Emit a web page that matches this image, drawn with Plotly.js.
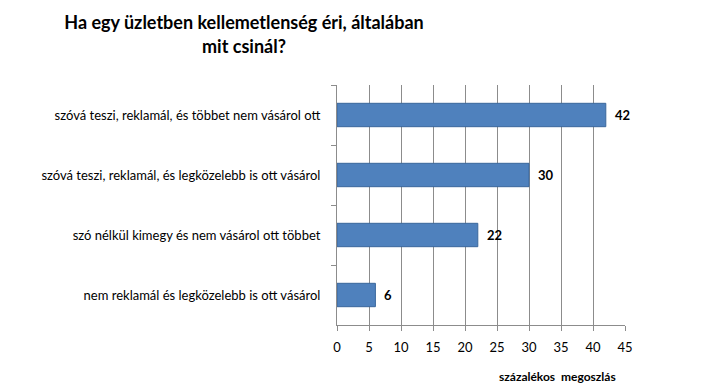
<!DOCTYPE html>
<html>
<head>
<meta charset="utf-8">
<script src="https://cdn.plot.ly/plotly-3.0.1.min.js"></script>
<style>html,body{margin:0;padding:0;background:#fff;}#chart{width:720px;height:390px;}</style>
</head>
<body>
<div id="chart"></div>
<script>
const categories = [
  "szóvá teszi, reklamál, és többet nem vásárol ott",
  "szóvá teszi, reklamál, és legközelebb is ott vásárol",
  "szó nélkül kimegy és nem vásárol ott többet",
  "nem reklamál és legközelebb is ott vásárol"
];
const values = [42, 30, 22, 6];
const xTicks = [0, 5, 10, 15, 20, 25, 30, 35, 40, 45];

const trace = {
  type: 'bar',
  orientation: 'h',
  y: categories,
  x: values,
  marker: {color: '#4F81BD', line: {color: '#3A679C', width: 1}},
  width: 0.39,
  hoverinfo: 'none'
};

const valueLabels = values.map((v, i) => ({
  text: '<b>' + v + '</b>',
  x: v, y: categories[i], xref: 'x', yref: 'y',
  xanchor: 'left', yanchor: 'middle', xshift: 7,
  showarrow: false,
  font: {family: 'Lato, sans-serif', size: 13, color: '#000'}
}));

const layout = {
  width: 720, height: 390,
  margin: {l: 337, r: 95, t: 85, b: 65},
  paper_bgcolor: '#fff', plot_bgcolor: '#fff',
  showlegend: false,
  font: {family: 'Lato, sans-serif', size: 13, color: '#000'},
  title: {
    text: '<b>Ha egy üzletben kellemetlenség éri, általában<br>mit csinál?</b>',
    font: {family: 'Lato, sans-serif', size: 18, color: '#000'},
    xref: 'container', yref: 'container',
    x: 244 / 720, xanchor: 'center', y: 0.925, yanchor: 'top'
  },
  xaxis: {
    range: [0, 45],
    tickvals: xTicks,
    ticktext: xTicks.map(String),
    showgrid: true, gridcolor: '#8C8C8C', gridwidth: 1,
    showline: true, linecolor: '#8C8C8C', linewidth: 1,
    ticks: 'outside', ticklen: 5, tickcolor: '#8C8C8C',
    tickfont: {family: 'Lato, sans-serif', size: 13, color: '#000'},
    ticklabelstandoff: 5,
    zeroline: false, fixedrange: true
  },
  yaxis: {
    type: 'category',
    autorange: 'reversed',
    tickson: 'boundaries',
    ticks: 'outside', ticklen: 5, tickcolor: '#8C8C8C',
    showline: true, linecolor: '#8C8C8C', linewidth: 1,
    showgrid: false, zeroline: false,
    tickfont: {family: 'Lato, sans-serif', size: 13, color: '#000'},
    ticklabelstandoff: 13,
    fixedrange: true
  },
  annotations: valueLabels.concat([{
    text: '<b>százalékos  megoszlás</b>',
    xref: 'paper', yref: 'paper',
    x: 0.764, y: -0.215, xanchor: 'center', yanchor: 'middle',
    showarrow: false,
    font: {family: 'Lato, sans-serif', size: 12, color: '#000'}
  }])
};

Plotly.newPlot('chart', [trace], layout, {displayModeBar: false, staticPlot: true});
</script>
</body>
</html>
